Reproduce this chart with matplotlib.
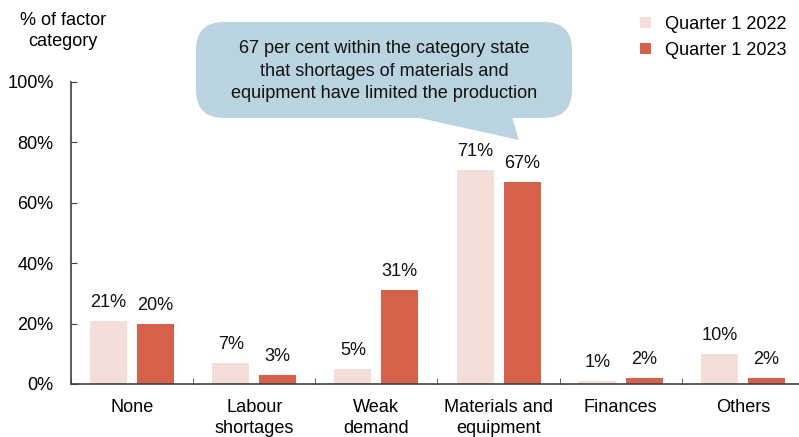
import numpy as np
import matplotlib.pyplot as plt
from matplotlib.patches import FancyBboxPatch, Polygon

plt.rcParams['font.family'] = ['Liberation Sans', 'DejaVu Sans']

categories = ["None", "Labour\nshortages", "Weak\ndemand", "Materials and\nequipment", "Finances", "Others"]
q1_2022 = [21, 7, 5, 71, 1, 10]
q1_2023 = [20, 3, 31, 67, 2, 2]
series_names = ["Quarter 1 2022", "Quarter 1 2023"]
yticks = [0, 20, 40, 60, 80, 100]

c_light = "#F4DED8"
c_dark = "#D5614B"
c_bubble = "#B9D3DF"
fs = 13.1
W, H = 799, 437

fig = plt.figure(figsize=(W / 100, H / 100), dpi=100)
ax = fig.add_axes([71 / W, 53 / H, (804 - 71) / W, (384 - 82) / H])

x = np.arange(len(categories))
w = 0.303
off = 0.192
b1 = ax.bar(x - off, q1_2022, w, color=c_light, label=series_names[0])
b2 = ax.bar(x + off, q1_2023, w, color=c_dark, label=series_names[1])

for bars, vals in ((b1, q1_2022), (b2, q1_2023)):
    for rect, v in zip(bars, vals):
        ax.annotate(f"{v}%", (rect.get_x() + rect.get_width() / 2, v),
                    xytext=(0, 10), textcoords="offset points",
                    ha="center", va="baseline", fontsize=fs, color="#111111")

ax.set_xlim(-0.5, len(categories) - 0.5)
ax.set_ylim(0, 100)
ax.set_yticks(yticks)
ax.set_yticklabels([f"{t}%" for t in yticks], fontsize=fs)
ax.set_xticks(x)
ax.set_xticklabels(categories, fontsize=fs, linespacing=1.25)
ax.set_xticks(np.arange(len(categories) + 1) - 0.5, minor=True)
ax.tick_params(axis="x", which="major", length=0, pad=11)
ax.tick_params(axis="x", which="minor", direction="in", length=4, color="#404040")
ax.tick_params(axis="y", direction="in", length=4, pad=12.5, color="#404040")
for s in ("top", "right"):
    ax.spines[s].set_visible(False)
for s in ("left", "bottom"):
    ax.spines[s].set_color("#404040")
    ax.spines[s].set_linewidth(1.2)

fig.text(63 / W, 1 - 31 / H, "% of factor\ncategory", ha="center", va="center",
         fontsize=fs, linespacing=1.3)

ax.legend(loc="upper left", bbox_to_anchor=(640 / W, 1 - 16 / H),
          bbox_transform=fig.transFigure, frameon=False, fontsize=fs,
          handlelength=0.6, handleheight=0.6, handletextpad=0.75,
          labelspacing=0.5, borderpad=0, borderaxespad=0)

# callout bubble
def fx(px):
    return px / W

def fy(py):
    return 1 - py / H

bubble = FancyBboxPatch((fx(196), fy(118)), fx(572) - fx(196), fy(22) - fy(118),
                        boxstyle="round,pad=0,rounding_size=0.035",
                        transform=fig.transFigure, facecolor=c_bubble,
                        edgecolor="none", mutation_aspect=W / H)
fig.patches.append(bubble)
tail = Polygon([(fx(415), fy(117)), (fx(512), fy(117)), (fx(519), fy(140))],
               closed=True, transform=fig.transFigure, facecolor=c_bubble, edgecolor="none")
fig.patches.append(tail)
fig.text(fx(384), fy(71), "67 per cent within the category state\nthat shortages of materials and\nequipment have limited the production",
         ha="center", va="center", fontsize=fs, linespacing=1.42, color="#111111")

fig.savefig("out.png", dpi=100)
